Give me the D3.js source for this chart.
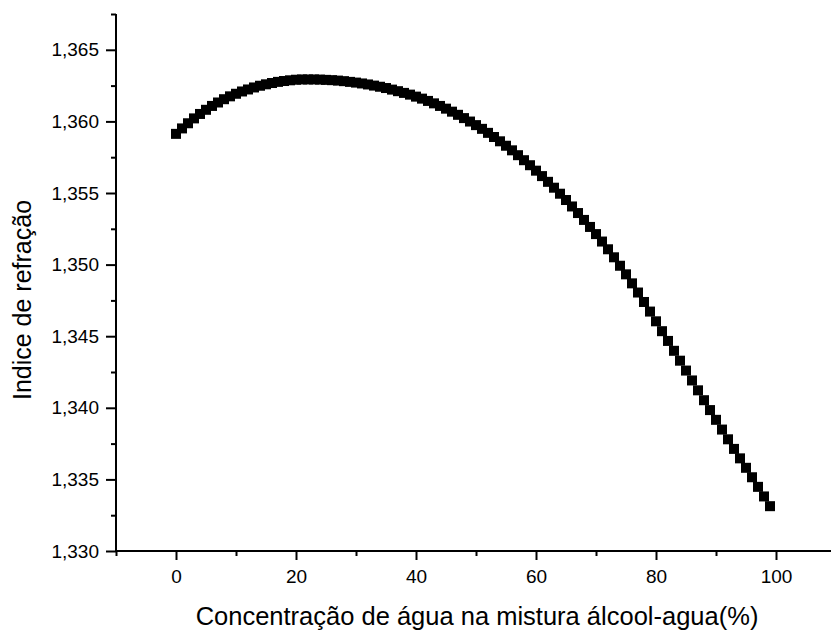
<!DOCTYPE html>
<html>
<head>
<meta charset="utf-8">
<script src="https://cdn.jsdelivr.net/npm/d3@7"></script>
<style>
  html, body { margin: 0; padding: 0; background: #fff; }
  svg { display: block; font-family: "Liberation Sans", Arial, Helvetica, sans-serif; }
</style>
</head>
<body>
<svg id="chart" width="831" height="632"></svg>
<script>
// Concentração de água (%) – one measurement per integer percent
const waterPct = d3.range(0, 100);

// Índice de refração for each concentration above
const refractiveIndex = [
  1.35913, 1.35951, 1.35987, 1.36021, 1.36052, 1.36081, 1.36108, 1.36132, 1.36155, 1.36175,
  1.36193, 1.36209, 1.36223, 1.36237, 1.36249, 1.36259, 1.36268, 1.36276, 1.36282, 1.36287,
  1.36291, 1.36293, 1.36293, 1.36293, 1.36292, 1.36290, 1.36288, 1.36285, 1.36281, 1.36276,
  1.36271, 1.36265, 1.36258, 1.36250, 1.36242, 1.36233, 1.36222, 1.36211, 1.36199, 1.36187,
  1.36173, 1.36159, 1.36143, 1.36126, 1.36108, 1.36089, 1.36068, 1.36046, 1.36023, 1.35999,
  1.35974, 1.35948, 1.35920, 1.35891, 1.35861, 1.35830, 1.35798, 1.35764, 1.35729, 1.35694,
  1.35656, 1.35618, 1.35578, 1.35537, 1.35495, 1.35451, 1.35406, 1.35360, 1.35312, 1.35263,
  1.35213, 1.35161, 1.35107, 1.35051, 1.34992, 1.34932, 1.34869, 1.34805, 1.34739, 1.34672,
  1.34604, 1.34535, 1.34467, 1.34398, 1.34329, 1.34260, 1.34191, 1.34122, 1.34053, 1.33984,
  1.33916, 1.33848, 1.33780, 1.33713, 1.33647, 1.33581, 1.33515, 1.33448, 1.33381, 1.33313
];

// Axis ticks
const xMajorTicks = [0, 20, 40, 60, 80, 100];
const xMinorTicks = [-10, 10, 30, 50, 70, 90, 110];
const yMajorTicks = [1.330, 1.335, 1.340, 1.345, 1.350, 1.355, 1.360, 1.365];
const yMinorTicks = [1.3325, 1.3375, 1.3425, 1.3475, 1.3525, 1.3575, 1.3625, 1.3675];

const xTitle = "Concentração de água na mistura álcool-agua(%)";
const yTitle = "Indice de refração";

const svg = d3.select("#chart");

const x = d3.scaleLinear().domain([-10, 110]).range([116, 836]);
const y = d3.scaleLinear().domain([1.330, 1.3675]).range([551, 14]);

const fmtY = v => d3.format(".3f")(v).replace(".", ",");

// X axis
const xAxisMajor = d3.axisBottom(x).tickValues(xMajorTicks).tickSize(9).tickPadding(10)
  .tickFormat(d3.format("d"));
const xAxisMinor = d3.axisBottom(x).tickValues(xMinorTicks).tickSize(5).tickFormat("");

const gx = svg.append("g").attr("transform", `translate(0,${y(1.330)})`);
gx.call(xAxisMajor);
const gxm = svg.append("g").attr("transform", `translate(0,${y(1.330)})`);
gxm.call(xAxisMinor);

// Y axis
const yAxisMajor = d3.axisLeft(y).tickValues(yMajorTicks).tickSize(10).tickPadding(7)
  .tickFormat(fmtY);
const yAxisMinor = d3.axisLeft(y).tickValues(yMinorTicks).tickSize(5).tickFormat("");

const gy = svg.append("g").attr("transform", `translate(${x(-10)},0)`);
gy.call(yAxisMajor);
const gym = svg.append("g").attr("transform", `translate(${x(-10)},0)`);
gym.call(yAxisMinor);

[gx, gxm, gy, gym].forEach(g => {
  g.selectAll(".domain").attr("stroke", "#000").attr("stroke-width", 2);
  g.selectAll(".tick line").attr("stroke", "#000").attr("stroke-width", 2);
  g.selectAll(".tick text").attr("fill", "#000").attr("font-size", 19)
    .attr("font-family", "Liberation Sans, Arial, sans-serif");
});
gxm.select(".domain").remove();
gym.select(".domain").remove();
gy.select(".domain").attr("d", `M0,${y(1.3675)}V${y(1.330)}`);
gx.select(".domain").attr("d", `M${x(-10)},0H${x(110)}`);

// Data markers: filled squares
const size = 10;
svg.append("g")
  .selectAll("rect")
  .data(waterPct.map((w, i) => ({ w, n: refractiveIndex[i] })))
  .join("rect")
  .attr("x", d => x(d.w) - size / 2)
  .attr("y", d => y(d.n) - size / 2)
  .attr("width", size)
  .attr("height", size)
  .attr("fill", "#000");

// Axis titles
svg.append("text")
  .attr("x", 477)
  .attr("y", 625)
  .attr("text-anchor", "middle")
  .attr("font-size", 25.5)
  .attr("fill", "#000")
  .text(xTitle);

svg.append("text")
  .attr("transform", "translate(31,300) rotate(-90)")
  .attr("text-anchor", "middle")
  .attr("font-size", 25)
  .attr("fill", "#000")
  .text(yTitle);
</script>
</body>
</html>
